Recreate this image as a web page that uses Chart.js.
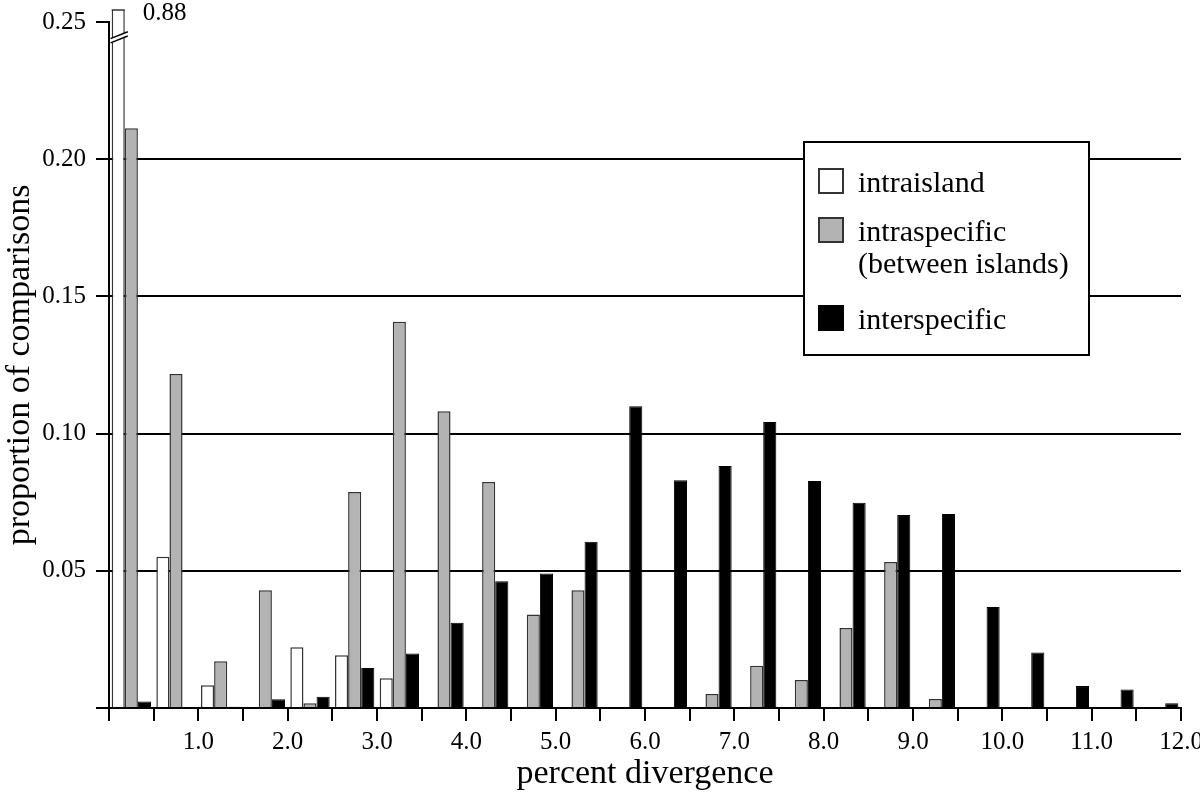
<!DOCTYPE html>
<html>
<head>
<meta charset="utf-8">
<script src="https://cdn.jsdelivr.net/npm/chart.js@4/dist/chart.umd.min.js"></script>
<style>
html, body { margin: 0; padding: 0; background: #fff; }
#wrap { width: 1200px; height: 795px; position: relative; }
canvas { display: block; }
</style>
</head>
<body>
<div id="wrap"><canvas id="c" width="1200" height="795"></canvas></div>
<script>
// ---- data ----
const binCenters = [0.25, 0.75, 1.25, 1.75, 2.25, 2.75, 3.25, 3.75, 4.25, 4.75, 5.25, 5.75,
                    6.25, 6.75, 7.25, 7.75, 8.25, 8.75, 9.25, 9.75, 10.25, 10.75, 11.25, 11.75];
const intraisland = [0.88, 0.0551, 0.0083, 0, 0.0221, 0.0192, 0.0108, 0, 0, 0, 0, 0,
                     0, 0, 0, 0, 0, 0, 0, 0, 0, 0, 0, 0];
const intraspecific = [0.2113, 0.1217, 0.0170, 0.0429, 0.0017, 0.0787, 0.1408, 0.1081, 0.0824, 0.0341, 0.0429, 0,
                       0, 0.0051, 0.0154, 0.0102, 0.0292, 0.0532, 0.0033, 0, 0, 0, 0, 0];
const interspecific = [0.0024, 0, 0.0005, 0.0032, 0.0041, 0.0146, 0.0199, 0.0311, 0.0462, 0.0490, 0.0606, 0.1100,
                       0.0830, 0.0882, 0.1042, 0.0827, 0.0748, 0.0703, 0.0707, 0.0368, 0.0202, 0.0080, 0.0067, 0.0017];
const seriesNames = ['intraisland', ['intraspecific', '(between islands)'], 'interspecific'];
const xTickLabels = ['1.0', '2.0', '3.0', '4.0', '5.0', '6.0', '7.0', '8.0', '9.0', '10.0', '11.0', '12.0'];
const yTickLabels = ['', '0.05', '0.10', '0.15', '0.20', '0.25'];
const xTitle = 'percent divergence';
const yTitle = 'proportion of comparisons';

const SERIF = '"Liberation Serif", "Times New Roman", serif';
Chart.defaults.color = '#000';
Chart.defaults.font.family = SERIF;

const decorations = {
  id: 'decorations',
  afterDatasetsDraw(chart) {
    const ctx = chart.ctx;
    const ca = chart.chartArea;
    const yMax = chart.scales.y.max;
    const meta = chart.getDatasetMeta(0);
    meta.data.forEach((bar, i) => {
      const v = intraisland[i];
      if (v > yMax) {
        const left = bar.x - bar.width / 2;
        const right = bar.x + bar.width / 2;
        ctx.save();
        // top cap of broken bar
        ctx.strokeStyle = '#333';
        ctx.lineWidth = 1.5;
        ctx.beginPath();
        ctx.moveTo(left, ca.top - 12);
        ctx.lineTo(right, ca.top - 12);
        ctx.stroke();
        // break marks
        const bx0 = ca.left + 1.5, bx1 = right + 3;
        const yc = ca.top + 15.3, slope = -0.40, gap = 4.3;
        const xm = (bx0 + bx1) / 2;
        const yAt = (x, off) => yc + off + slope * (x - xm);
        ctx.fillStyle = '#fff';
        ctx.beginPath();
        ctx.moveTo(bx0, yAt(bx0, -gap / 2));
        ctx.lineTo(bx1, yAt(bx1, -gap / 2));
        ctx.lineTo(bx1, yAt(bx1, gap / 2));
        ctx.lineTo(bx0, yAt(bx0, gap / 2));
        ctx.closePath();
        ctx.fill();
        ctx.strokeStyle = '#000';
        ctx.lineWidth = 1.5;
        ctx.beginPath();
        ctx.moveTo(bx0, yAt(bx0, -gap / 2));
        ctx.lineTo(bx1, yAt(bx1, -gap / 2));
        ctx.moveTo(bx0, yAt(bx0, gap / 2));
        ctx.lineTo(bx1, yAt(bx1, gap / 2));
        ctx.stroke();
        // value label
        ctx.font = '25px ' + SERIF;
        ctx.fillStyle = '#000';
        ctx.textAlign = 'left';
        ctx.textBaseline = 'alphabetic';
        ctx.fillText(v.toFixed(2), right + 18, ca.top - 2);
        ctx.restore();
      }
    });
  },
  afterDraw(chart) {
    const ctx = chart.ctx;
    const ca = chart.chartArea;
    const bx = ca.right - 377, by = ca.top + 120, bw = 285, bh = 213;
    ctx.save();
    ctx.fillStyle = '#fff';
    ctx.fillRect(bx, by, bw, bh);
    ctx.strokeStyle = '#000';
    ctx.lineWidth = 2;
    ctx.strokeRect(bx, by, bw, bh);
    ctx.font = '30px ' + SERIF;
    ctx.textAlign = 'left';
    ctx.textBaseline = 'alphabetic';
    let rowTop = by + 27;
    chart.data.datasets.forEach((ds) => {
      const lines = Array.isArray(ds.label) ? ds.label : [ds.label];
      ctx.fillStyle = ds.backgroundColor;
      ctx.fillRect(bx + 15, rowTop, 24, 24);
      ctx.strokeStyle = ds.borderColor;
      ctx.lineWidth = 2;
      ctx.strokeRect(bx + 15, rowTop, 24, 24);
      ctx.fillStyle = '#000';
      lines.forEach((t, k) => ctx.fillText(t, bx + 54, rowTop + 23 + k * 32));
      rowTop += 49 + (lines.length - 1) * 39;
    });
    ctx.restore();
  }
};

new Chart(document.getElementById('c'), {
  type: 'bar',
  data: {
    labels: binCenters,
    datasets: [
      { label: seriesNames[0], data: intraisland, backgroundColor: '#ffffff', borderColor: '#333333',
        borderWidth: 1.5, clip: { left: 0, top: 12, right: 0, bottom: 0 } },
      { label: seriesNames[1], data: intraspecific, backgroundColor: '#b3b3b3', borderColor: '#333333',
        borderWidth: 1.5 },
      { label: seriesNames[2], data: interspecific, backgroundColor: '#000000', borderColor: '#000000',
        borderWidth: 1 }
    ]
  },
  options: {
    responsive: false,
    devicePixelRatio: 1,
    animation: false,
    categoryPercentage: 0.88,
    barPercentage: 1.0,
    layout: { padding: { top: 22, right: 19, left: 0, bottom: 0 } },
    plugins: { legend: { display: false }, tooltip: { enabled: false } },
    scales: {
      x: {
        type: 'linear',
        offset: false,
        min: 0, max: 12,
        afterFit(s) { s.height = 87; s.paddingLeft = 0; s.paddingRight = 0; },
        ticks: {
          stepSize: 0.5, autoSkip: false, maxRotation: 0, minRotation: 0, padding: 6,
          font: { size: 25, family: SERIF }, color: '#000',
          callback: (v) => {
            const k = Math.round(v * 2);
            return (k >= 2 && k % 2 === 0) ? xTickLabels[k / 2 - 1] : '';
          }
        },
        grid: { offset: false, drawOnChartArea: false, color: '#000', tickColor: '#000', lineWidth: 2, tickLength: 13 },
        border: { display: true, color: '#000', width: 2 },
        title: { display: true, text: xTitle, font: { size: 34, family: SERIF }, color: '#000', padding: { top: 0, bottom: 1 } }
      },
      y: {
        min: 0, max: 0.25,
        afterFit(s) { s.width = 109; s.paddingTop = 0; s.paddingBottom = 0; },
        ticks: {
          stepSize: 0.05, padding: 10,
          font: { size: 25, family: SERIF }, color: '#000',
          callback: (v, i) => yTickLabels[i]
        },
        grid: {
          color: (c) => (c.tick && c.tick.value > 0.249) ? 'rgba(0,0,0,0)' : '#000',
          tickColor: '#000', lineWidth: 2, tickLength: 13
        },
        border: { display: true, color: '#000', width: 2 },
        title: { display: true, text: yTitle, font: { size: 34, family: SERIF }, color: '#000', padding: { top: 0, bottom: 0 } }
      }
    }
  },
  plugins: [decorations]
});
</script>
</body>
</html>
